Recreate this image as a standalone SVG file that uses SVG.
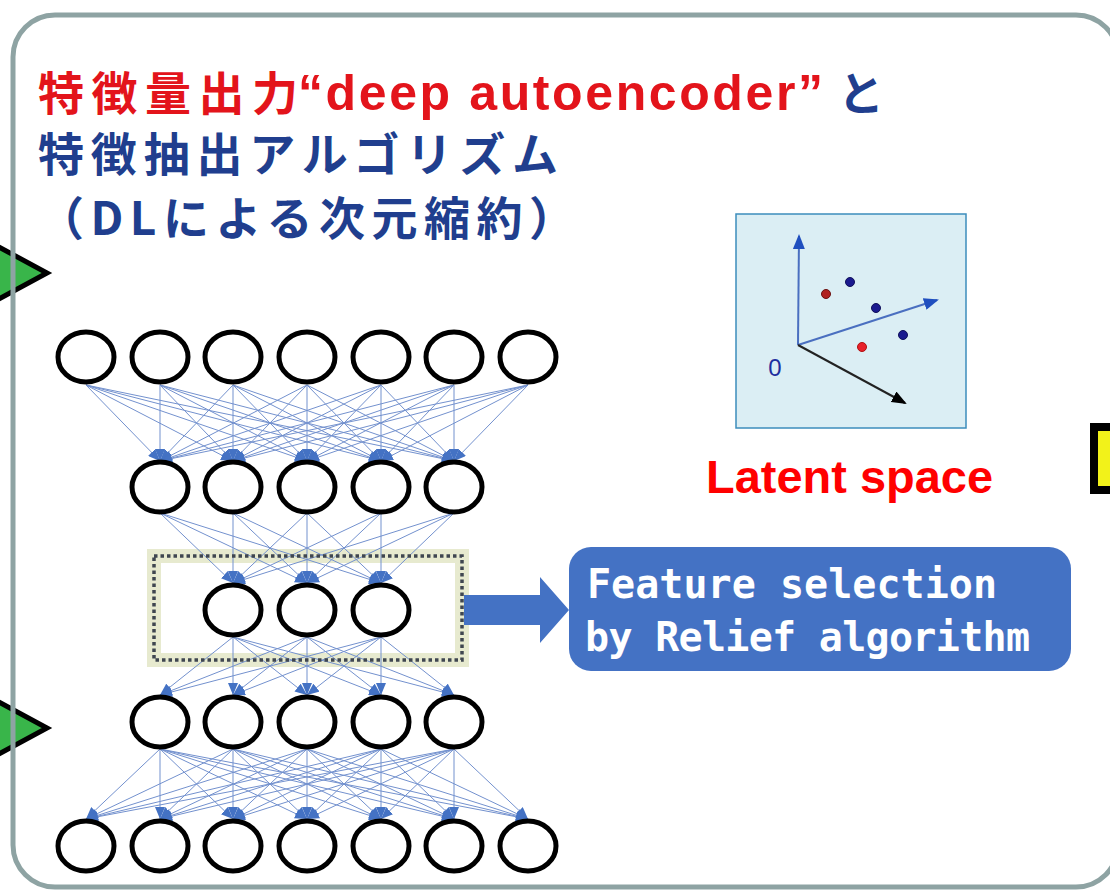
<svg xmlns="http://www.w3.org/2000/svg" width="1110" height="893" viewBox="0 0 1110 893">
<style>
.t{font-family:"Noto Sans CJK JP","Liberation Sans",sans-serif;font-weight:700;font-size:46px}
.lat{font-family:"Liberation Sans",Arial,sans-serif;font-weight:700}
.n{fill:#fff;stroke:#000;stroke-width:5}
.c line{stroke:#7391CE;stroke-width:1;marker-end:url(#ah)}
.fs{font-family:"DejaVu Sans Mono","Liberation Mono",monospace;font-weight:700;font-size:40px;fill:#fff}
.dot{stroke-width:1}
</style>
<defs>
<marker id="ah" markerUnits="userSpaceOnUse" markerWidth="12" markerHeight="10" refX="12" refY="5" orient="auto"><path d="M0,0 L12,5 L0,10 z" fill="#4472C4"/></marker>
<marker id="ab" markerUnits="userSpaceOnUse" markerWidth="15" markerHeight="12" refX="13" refY="6" orient="auto"><path d="M0,0 L15,6 L0,12 z" fill="#1F4FBF"/></marker>
<marker id="ak" markerUnits="userSpaceOnUse" markerWidth="15" markerHeight="12" refX="13" refY="6" orient="auto"><path d="M0,0 L15,6 L0,12 z" fill="#000"/></marker>
</defs>
<rect x="0" y="0" width="1110" height="893" fill="#fff"/>

<g id="green-arrow-top"><polygon points="-40,226 47,273 -40,320" fill="#39B54A" stroke="#000" stroke-width="5" stroke-linejoin="miter"/></g>
<g id="green-arrow-bottom"><polygon points="-40,681 47,728 -40,775" fill="#39B54A" stroke="#000" stroke-width="5" stroke-linejoin="miter"/></g>

<g id="frame"><rect x="13" y="15" width="1105" height="872" rx="42" fill="none" stroke="#8EA3A3" stroke-width="5"/></g>

<g id="yellow-box"><rect x="1094" y="427" width="40" height="63" fill="#F2F21A" stroke="#000" stroke-width="8"/></g>

<g id="title">
<text class="t" x="38" y="110" fill="#E3141B" textLength="260" lengthAdjust="spacing">特徴量出力</text>
<text class="lat" x="298" y="110" font-size="50" fill="#E3141B" textLength="525" lengthAdjust="spacing">“deep autoencoder”</text>
<text class="t" x="838" y="110" fill="#203E8E">と</text>
<text class="t" x="38" y="171" fill="#203E8E" textLength="520" lengthAdjust="spacing">特徴抽出アルゴリズム</text>
<text class="t" x="38" y="235" fill="#203E8E" textLength="537" lengthAdjust="spacing">（DLによる次元縮約）</text>
</g>

<g id="latent-space">
<rect x="736" y="214" width="230" height="214" fill="#DBEEF4" stroke="#3C8DBC" stroke-width="1.5"/>
<line x1="798" y1="345" x2="799" y2="236" stroke="#4A6FC0" stroke-width="2" marker-end="url(#ab)"/>
<line x1="798" y1="345" x2="937" y2="300" stroke="#4A6FC0" stroke-width="2" marker-end="url(#ab)"/>
<line x1="798" y1="345" x2="905" y2="403" stroke="#222" stroke-width="2" marker-end="url(#ak)"/>
<text x="775" y="376" font-family="Liberation Sans,Arial,sans-serif" font-size="24" fill="#1F2F9F" text-anchor="middle">0</text>
<circle class="dot" cx="826" cy="294" r="4.5" fill="#B0201F" stroke="#6A1010"/>
<circle class="dot" cx="850" cy="282" r="4.5" fill="#1A1A8F" stroke="#10105A"/>
<circle class="dot" cx="876" cy="308" r="4.5" fill="#1A1A8F" stroke="#10105A"/>
<circle class="dot" cx="903" cy="335" r="4.5" fill="#1A1A8F" stroke="#10105A"/>
<circle class="dot" cx="862" cy="347" r="4.5" fill="#E8202A" stroke="#B01010"/>
<text class="lat" x="706" y="493" font-size="46" fill="#FF0000" textLength="287" lengthAdjust="spacingAndGlyphs">Latent space</text>
</g>

<g id="bottleneck-box">
<rect x="154" y="556" width="308" height="104" fill="none" stroke="#E7EACF" stroke-width="14"/>
</g>

<g id="connectors" class="c">
<line x1="86" y1="385" x2="160" y2="461"/><line x1="86" y1="385" x2="233" y2="461"/><line x1="86" y1="385" x2="307" y2="461"/><line x1="86" y1="385" x2="381" y2="461"/><line x1="86" y1="385" x2="454" y2="461"/>
<line x1="160" y1="385" x2="160" y2="461"/><line x1="160" y1="385" x2="233" y2="461"/><line x1="160" y1="385" x2="307" y2="461"/><line x1="160" y1="385" x2="381" y2="461"/><line x1="160" y1="385" x2="454" y2="461"/>
<line x1="233" y1="385" x2="160" y2="461"/><line x1="233" y1="385" x2="233" y2="461"/><line x1="233" y1="385" x2="307" y2="461"/><line x1="233" y1="385" x2="381" y2="461"/><line x1="233" y1="385" x2="454" y2="461"/>
<line x1="307" y1="385" x2="160" y2="461"/><line x1="307" y1="385" x2="233" y2="461"/><line x1="307" y1="385" x2="307" y2="461"/><line x1="307" y1="385" x2="381" y2="461"/><line x1="307" y1="385" x2="454" y2="461"/>
<line x1="381" y1="385" x2="160" y2="461"/><line x1="381" y1="385" x2="233" y2="461"/><line x1="381" y1="385" x2="307" y2="461"/><line x1="381" y1="385" x2="381" y2="461"/><line x1="381" y1="385" x2="454" y2="461"/>
<line x1="454" y1="385" x2="160" y2="461"/><line x1="454" y1="385" x2="233" y2="461"/><line x1="454" y1="385" x2="307" y2="461"/><line x1="454" y1="385" x2="381" y2="461"/><line x1="454" y1="385" x2="454" y2="461"/>
<line x1="528" y1="385" x2="160" y2="461"/><line x1="528" y1="385" x2="233" y2="461"/><line x1="528" y1="385" x2="307" y2="461"/><line x1="528" y1="385" x2="381" y2="461"/><line x1="528" y1="385" x2="454" y2="461"/>
<line x1="160" y1="513" x2="233" y2="583"/><line x1="160" y1="513" x2="307" y2="583"/><line x1="160" y1="513" x2="381" y2="583"/>
<line x1="233" y1="513" x2="233" y2="583"/><line x1="233" y1="513" x2="307" y2="583"/><line x1="233" y1="513" x2="381" y2="583"/>
<line x1="307" y1="513" x2="233" y2="583"/><line x1="307" y1="513" x2="307" y2="583"/><line x1="307" y1="513" x2="381" y2="583"/>
<line x1="381" y1="513" x2="233" y2="583"/><line x1="381" y1="513" x2="307" y2="583"/><line x1="381" y1="513" x2="381" y2="583"/>
<line x1="454" y1="513" x2="233" y2="583"/><line x1="454" y1="513" x2="307" y2="583"/><line x1="454" y1="513" x2="381" y2="583"/>
<line x1="233" y1="637" x2="160" y2="695"/><line x1="233" y1="637" x2="233" y2="695"/><line x1="233" y1="637" x2="307" y2="695"/><line x1="233" y1="637" x2="381" y2="695"/><line x1="233" y1="637" x2="454" y2="695"/>
<line x1="307" y1="637" x2="160" y2="695"/><line x1="307" y1="637" x2="233" y2="695"/><line x1="307" y1="637" x2="307" y2="695"/><line x1="307" y1="637" x2="381" y2="695"/><line x1="307" y1="637" x2="454" y2="695"/>
<line x1="381" y1="637" x2="160" y2="695"/><line x1="381" y1="637" x2="233" y2="695"/><line x1="381" y1="637" x2="307" y2="695"/><line x1="381" y1="637" x2="381" y2="695"/><line x1="381" y1="637" x2="454" y2="695"/>
<line x1="160" y1="749" x2="86" y2="819"/><line x1="160" y1="749" x2="160" y2="819"/><line x1="160" y1="749" x2="233" y2="819"/><line x1="160" y1="749" x2="307" y2="819"/><line x1="160" y1="749" x2="381" y2="819"/><line x1="160" y1="749" x2="454" y2="819"/><line x1="160" y1="749" x2="528" y2="819"/>
<line x1="233" y1="749" x2="86" y2="819"/><line x1="233" y1="749" x2="160" y2="819"/><line x1="233" y1="749" x2="233" y2="819"/><line x1="233" y1="749" x2="307" y2="819"/><line x1="233" y1="749" x2="381" y2="819"/><line x1="233" y1="749" x2="454" y2="819"/><line x1="233" y1="749" x2="528" y2="819"/>
<line x1="307" y1="749" x2="86" y2="819"/><line x1="307" y1="749" x2="160" y2="819"/><line x1="307" y1="749" x2="233" y2="819"/><line x1="307" y1="749" x2="307" y2="819"/><line x1="307" y1="749" x2="381" y2="819"/><line x1="307" y1="749" x2="454" y2="819"/><line x1="307" y1="749" x2="528" y2="819"/>
<line x1="381" y1="749" x2="86" y2="819"/><line x1="381" y1="749" x2="160" y2="819"/><line x1="381" y1="749" x2="233" y2="819"/><line x1="381" y1="749" x2="307" y2="819"/><line x1="381" y1="749" x2="381" y2="819"/><line x1="381" y1="749" x2="454" y2="819"/><line x1="381" y1="749" x2="528" y2="819"/>
<line x1="454" y1="749" x2="86" y2="819"/><line x1="454" y1="749" x2="160" y2="819"/><line x1="454" y1="749" x2="233" y2="819"/><line x1="454" y1="749" x2="307" y2="819"/><line x1="454" y1="749" x2="381" y2="819"/><line x1="454" y1="749" x2="454" y2="819"/><line x1="454" y1="749" x2="528" y2="819"/>
</g>

<g id="bottleneck-border"><rect x="154" y="556" width="308" height="104" fill="none" stroke="#3F4650" stroke-width="3.5" stroke-dasharray="3.5 3"/></g>

<g id="layer1">
<ellipse class="n" cx="86" cy="357" rx="28" ry="25"/><ellipse class="n" cx="160" cy="357" rx="28" ry="25"/><ellipse class="n" cx="233" cy="357" rx="28" ry="25"/><ellipse class="n" cx="307" cy="357" rx="28" ry="25"/><ellipse class="n" cx="381" cy="357" rx="28" ry="25"/><ellipse class="n" cx="454" cy="357" rx="28" ry="25"/><ellipse class="n" cx="528" cy="357" rx="28" ry="25"/>
</g>
<g id="layer2">
<ellipse class="n" cx="160" cy="487" rx="28" ry="25"/><ellipse class="n" cx="233" cy="487" rx="28" ry="25"/><ellipse class="n" cx="307" cy="487" rx="28" ry="25"/><ellipse class="n" cx="381" cy="487" rx="28" ry="25"/><ellipse class="n" cx="454" cy="487" rx="28" ry="25"/>
</g>
<g id="layer3">
<ellipse class="n" cx="233" cy="610" rx="28" ry="25"/><ellipse class="n" cx="307" cy="610" rx="28" ry="25"/><ellipse class="n" cx="381" cy="610" rx="28" ry="25"/>
</g>
<g id="layer4">
<ellipse class="n" cx="160" cy="722" rx="28" ry="25"/><ellipse class="n" cx="233" cy="722" rx="28" ry="25"/><ellipse class="n" cx="307" cy="722" rx="28" ry="25"/><ellipse class="n" cx="381" cy="722" rx="28" ry="25"/><ellipse class="n" cx="454" cy="722" rx="28" ry="25"/>
</g>
<g id="layer5">
<ellipse class="n" cx="86" cy="846" rx="28" ry="25"/><ellipse class="n" cx="160" cy="846" rx="28" ry="25"/><ellipse class="n" cx="233" cy="846" rx="28" ry="25"/><ellipse class="n" cx="307" cy="846" rx="28" ry="25"/><ellipse class="n" cx="381" cy="846" rx="28" ry="25"/><ellipse class="n" cx="454" cy="846" rx="28" ry="25"/><ellipse class="n" cx="528" cy="846" rx="28" ry="25"/>
</g>

<g id="block-arrow"><polygon points="464,595 540,595 540,577 569,610 540,643 540,625 464,625" fill="#4472C4"/></g>

<g id="feature-selection">
<rect x="569" y="547" width="502" height="124" rx="22" fill="#4472C4"/>
<text class="fs" x="587" y="598" textLength="410" lengthAdjust="spacing">Feature selection</text>
<text class="fs" x="585" y="651" textLength="445" lengthAdjust="spacing">by Relief algorithm</text>
</g>
</svg>
